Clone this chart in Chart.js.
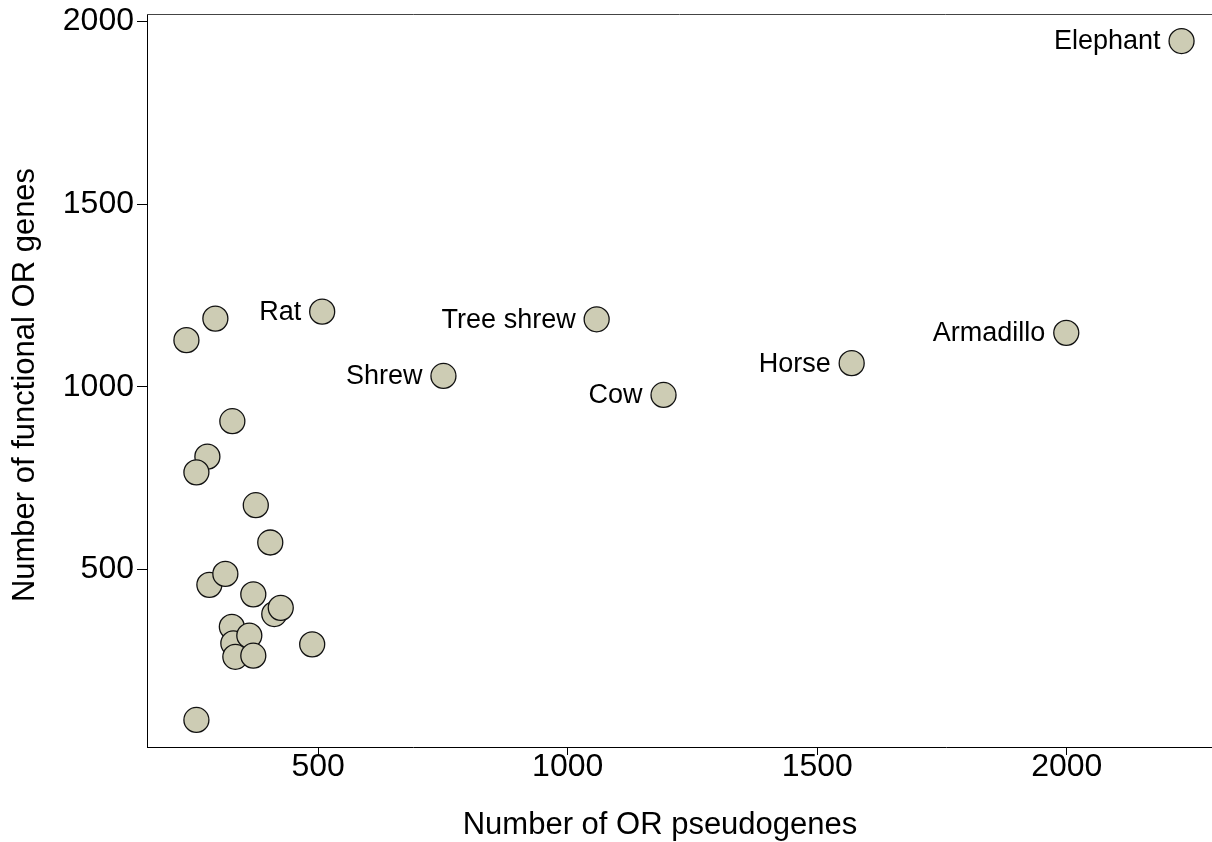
<!DOCTYPE html>
<html>
<head>
<meta charset="utf-8">
<script src="https://cdn.jsdelivr.net/npm/chart.js@4/dist/chart.umd.min.js"></script>
<style>
  html, body { margin: 0; padding: 0; background: #fff; overflow: hidden; }
  #chart { display: block; }
</style>
</head>
<body>
<canvas id="chart" width="1212" height="842"></canvas>
<script>
// OR gene counts per species
const species = [
  "", "", "", "Rat", "Shrew", "Tree shrew", "Cow", "Horse", "Armadillo", "Elephant",
  "", "", "", "", "", "", "", "", "", "", "", "", "", "", "", ""
];
const pseudogenes = [
  256, 236, 294, 508, 751, 1058, 1192, 1569, 1999, 2230,
  328, 278, 256, 375, 404, 282, 314, 370, 412, 425, 327, 330, 362, 334, 370, 488
];
const functional = [
  88, 1128, 1187, 1206, 1030, 1185, 978, 1065, 1148, 1947,
  906, 809, 766, 676, 574, 458, 488, 432, 378, 395, 343, 298, 319, 261, 264, 295
];
const xTicks = [500, 1000, 1500, 2000];
const yTicks = [500, 1000, 1500, 2000];

const FONT = "'Liberation Sans', Arial, Helvetica, sans-serif";

const points = pseudogenes.map((x, i) => ({ x, y: functional[i] }));

// top frame line, species labels and axis titles
const extras = {
  id: "extras",
  afterDatasetsDraw(chart) {
    const { ctx, chartArea } = chart;
    ctx.save();
    ctx.strokeStyle = "#444";
    ctx.lineWidth = 1;
    ctx.beginPath();
    ctx.moveTo(chartArea.left, chartArea.top + 0.5);
    ctx.lineTo(chartArea.right, chartArea.top + 0.5);
    ctx.stroke();

    const meta = chart.getDatasetMeta(0);
    ctx.fillStyle = "#000";
    ctx.font = "27px " + FONT;
    ctx.textAlign = "right";
    ctx.textBaseline = "middle";
    meta.data.forEach((pt, i) => {
      if (species[i]) ctx.fillText(species[i], pt.x - 21, pt.y + 1);
    });

    ctx.font = "31px " + FONT;
    ctx.textAlign = "center";
    ctx.fillText("Number of OR pseudogenes", 660, 825);
    ctx.translate(25, 385);
    ctx.rotate(-Math.PI / 2);
    ctx.fillText("Number of functional OR genes", 0, 0);
    ctx.restore();
  }
};

new Chart(document.getElementById("chart"), {
  type: "scatter",
  data: {
    datasets: [{
      data: points,
      pointRadius: 12.5,
      pointBorderWidth: 1.3,
      pointBorderColor: "#111",
      pointBackgroundColor: "#cdccb4"
    }]
  },
  options: {
    responsive: false,
    animation: false,
    layout: { autoPadding: false, padding: { top: 14, right: 0, left: 0, bottom: 0 } },
    plugins: { legend: { display: false }, tooltip: { enabled: false } },
    scales: {
      x: {
        type: "linear",
        min: 157,
        max: 2291,
        afterFit(scale) {
          scale.height = 95;
          scale.paddingLeft = 0;
          scale.paddingRight = 0;
        },
        afterBuildTicks(scale) { scale.ticks = xTicks.map(v => ({ value: v })); },
        border: { color: "#000", width: 1 },
        grid: { drawOnChartArea: false, tickLength: 8, color: "#000" },
        ticks: {
          color: "#000", padding: -7,
          font: { family: FONT, size: 32 },
          callback: v => String(v)
        }
      },
      y: {
        type: "linear",
        min: 14,
        max: 2021,
        afterFit(scale) {
          scale.width = 147;
          scale.paddingTop = 0;
          scale.paddingBottom = 0;
        },
        afterBuildTicks(scale) { scale.ticks = yTicks.map(v => ({ value: v })); },
        border: { color: "#000", width: 1 },
        grid: { drawOnChartArea: false, tickLength: 10, color: "#000" },
        ticks: {
          color: "#000", padding: 3,
          font: { family: FONT, size: 32 },
          callback: v => String(v)
        }
      }
    }
  },
  plugins: [extras]
});
</script>
</body>
</html>
